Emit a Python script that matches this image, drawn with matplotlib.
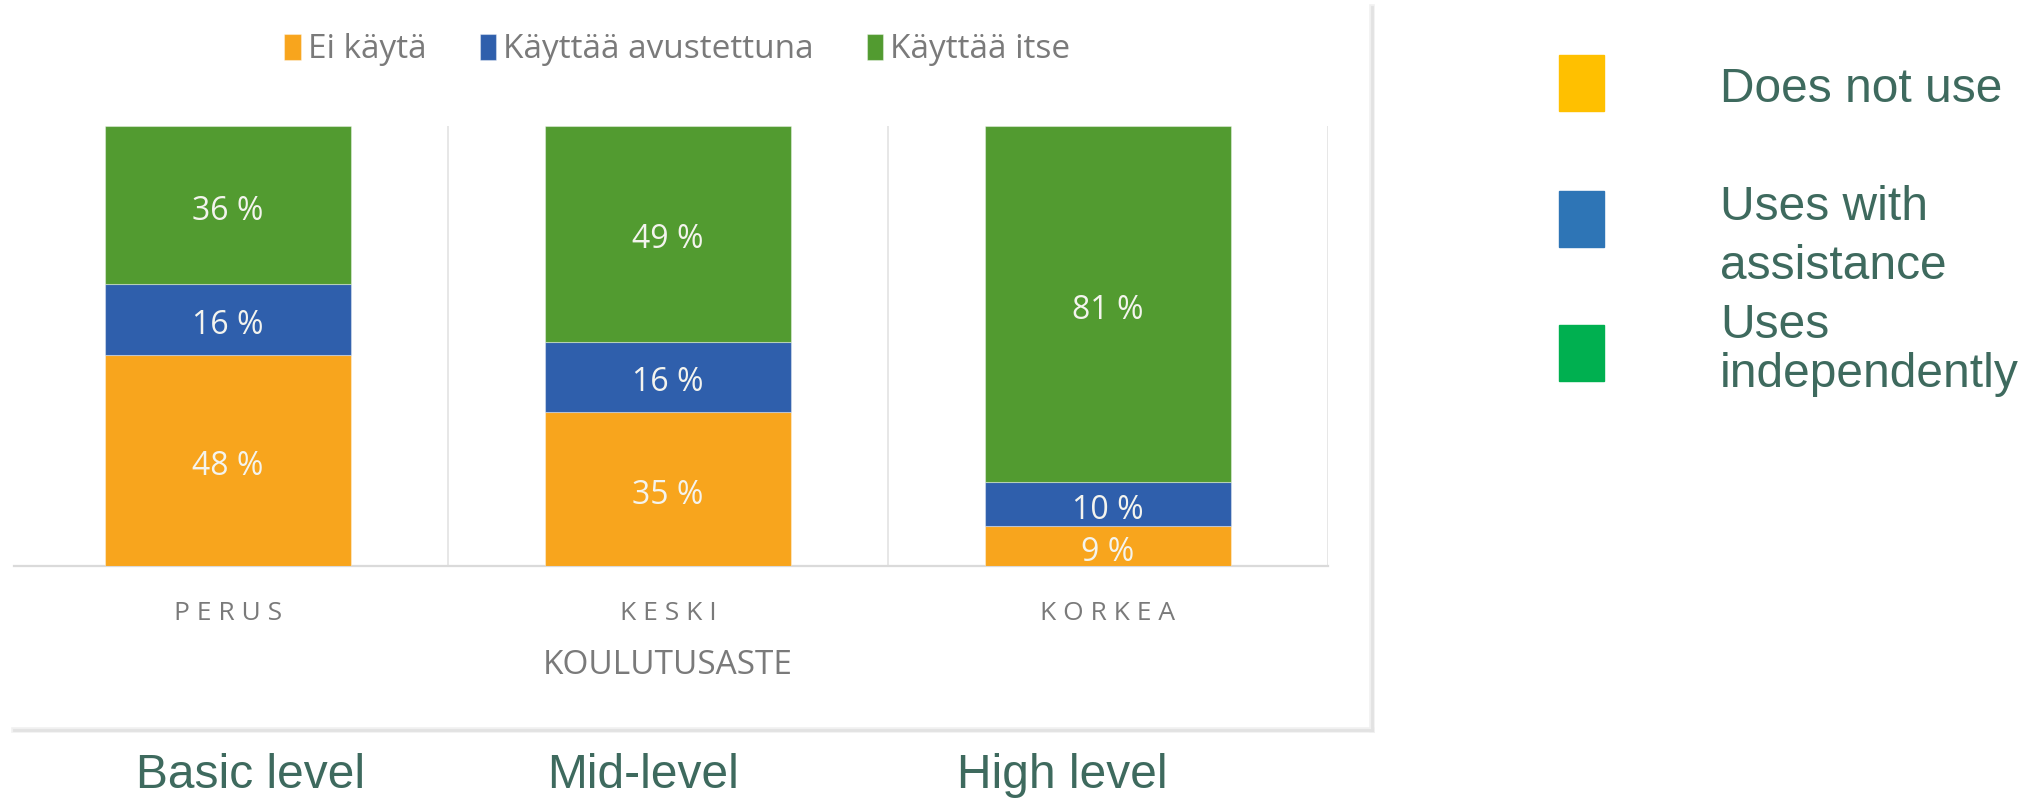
import matplotlib.pyplot as plt
import numpy as np
from matplotlib.patches import Rectangle
from matplotlib.lines import Line2D

categories = ["PERUS", "KESKI", "KORKEA"]
series_names = ["Ei käytä", "Käyttää avustettuna", "Käyttää itse"]
ei_kayta = [48, 35, 9]
avustettuna = [16, 16, 10]
itse = [36, 49, 81]
english_levels = ["Basic level", "Mid-level", "High level"]
english_legend = ["Does not use", "Uses with\nassistance", "Uses\nindependently"]

bar_colors = ["#F8A51D", "#2F5FAC", "#529B30"]
side_colors = ["#FFC000", "#2E75B6", "#00B050"]
grey_text = "#7A7A7A"
teal_text = "#3E6A5E"

fig = plt.figure(figsize=(20.32, 7.98), dpi=100)
W, H = 2032, 798

# plot area in pixels: x 8..1328, y 126..566
ax = fig.add_axes([8 / W, 1 - 566 / H, 1320 / W, 440 / H])

x = np.arange(len(categories))
bottom = np.zeros(len(categories))
for name, vals, col in zip(series_names, [ei_kayta, avustettuna, itse], bar_colors):
    bars = ax.bar(x, vals, width=0.557, bottom=bottom, color=col, label=name,
                  edgecolor="#FFFFFF60", linewidth=0.8, zorder=3)
    for b, v in zip(bars, vals):
        ax.annotate(f"{v} %", (b.get_x() + b.get_width() / 2, b.get_y() + b.get_height() / 2),
                    xytext=(0, -6), textcoords="offset pixels",
                    ha="center", va="center", color="#F4F4EE",
                    fontsize=23, family="Open Sans", zorder=4)
    bottom += np.array(vals)

ax.set_xlim(-0.5, 2.5)
ax.set_ylim(0, 100)
ax.set_yticks([])
for xv in [0.5, 1.5, 2.5]:
    ax.axvline(xv, color="#E3E3E3", linewidth=1.2, zorder=1)
ax.plot([-0.487, 2.5], [0, 0], color="#DADADA", linewidth=1.6, zorder=2,
        clip_on=False)
for s in ax.spines.values():
    s.set_visible(False)

ax.set_xticks(x)
ax.set_xticklabels([" ".join(c) for c in categories], family="Open Sans",
                   fontsize=19, color=grey_text)
ax.tick_params(axis="x", length=0, pad=25)
ax.set_xlabel("KOULUTUSASTE", family="Open Sans", fontsize=24,
              color=grey_text, labelpad=17)

leg = ax.legend(loc="center", bbox_to_anchor=(0.507, (H - 50 - (H - 566)) / 440),
                ncol=3, frameon=False, handlelength=0.5, handleheight=0.8,
                handletextpad=0.2, columnspacing=1.6,
                prop={"family": "Open Sans", "size": 24})
for t in leg.get_texts():
    t.set_color(grey_text)

# panel border with soft shadow
for lw, c in [(4, "#F0F0F0"), (2, "#E2E2E2")]:
    fig.add_artist(Line2D([14 / W, 1372 / W], [1 - 730 / H, 1 - 730 / H],
                          color=c, linewidth=lw))
    fig.add_artist(Line2D([1372 / W, 1372 / W], [1 - 7 / H, 1 - 730 / H],
                          color=c, linewidth=lw))

# english labels under the panel
for lbl, xc in zip(english_levels, [251, 643, 1062]):
    fig.text(xc / W, 1 - 775 / H, lbl, ha="center", va="center",
             fontsize=34.5, family="Liberation Sans", color=teal_text)

# right side legend
square_tops = [55, 191, 325]
text_centers = [90, 237, 350]
line_gaps = [1.1, 1.38, 1.12]
for col, lbl, top, tc, ls in zip(side_colors, english_legend, square_tops,
                                 text_centers, line_gaps):
    fig.add_artist(Rectangle((1559 / W, 1 - (top + 56) / H), 45 / W, 56 / H,
                             color=col, transform=fig.transFigure))
    fig.text(1720 / W, 1 - tc / H, lbl, ha="left", va="center",
             fontsize=34.5, family="Liberation Sans", color=teal_text,
             linespacing=ls)

fig.savefig("out.png", dpi=100)
